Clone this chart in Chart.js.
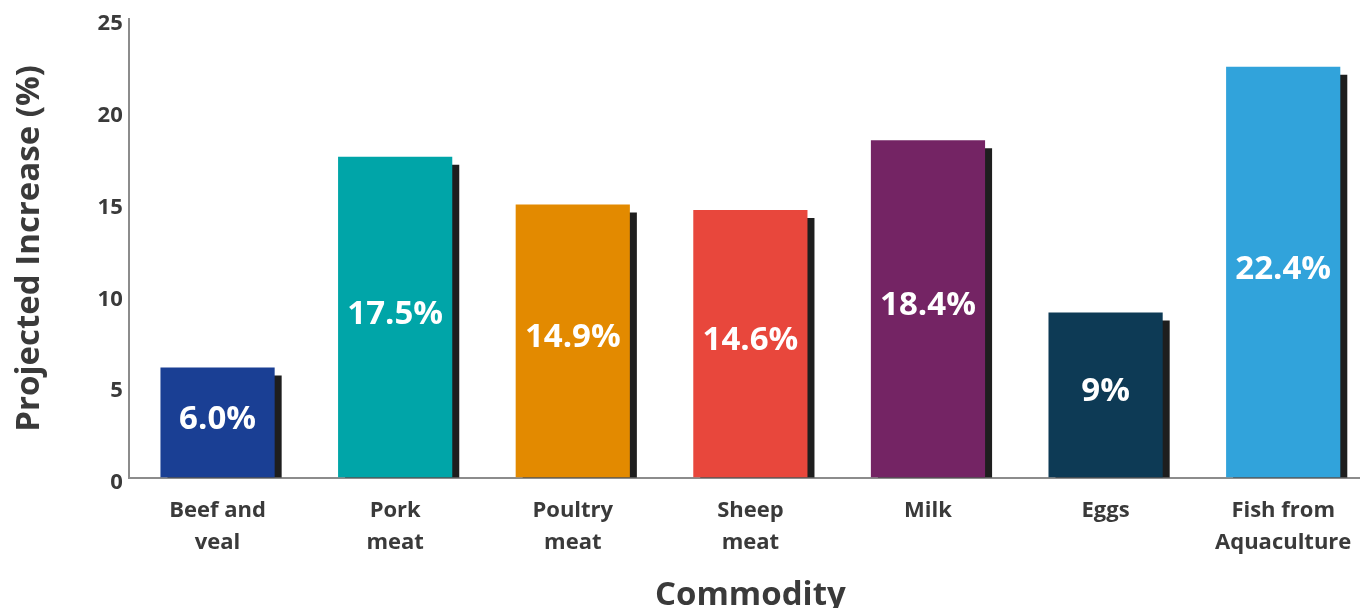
<!DOCTYPE html>
<html>
<head>
<meta charset="utf-8">
<script src="https://cdn.jsdelivr.net/npm/chart.js@4/dist/chart.umd.min.js"></script>
<style>
  html, body { margin: 0; padding: 0; background: #ffffff; overflow: hidden; }
  #wrap { position: relative; width: 1372px; height: 608px; }
</style>
</head>
<body>
<div id="wrap"><canvas id="c"></canvas></div>
<script>
const categories = [
  ["Beef and", "veal"],
  ["Pork", "meat"],
  ["Poultry", "meat"],
  ["Sheep", "meat"],
  ["Milk"],
  ["Eggs"],
  ["Fish from", "Aquaculture"]
];
const increases = [6.0, 17.5, 14.9, 14.6, 18.4, 9.0, 22.4];
const valueLabels = ["6.0%", "17.5%", "14.9%", "14.6%", "18.4%", "9%", "22.4%"];
const barColors = ["#1a3f94", "#00a5a8", "#e38a00", "#e8473c", "#742464", "#0d3a55", "#31a3db"];
const yTicks = [0, 5, 10, 15, 20, 25];

const FONT = "'Open Sans', 'DejaVu Sans', sans-serif";
const TEXT = "#3a3a3a";

const shadowAndLabels = {
  id: 'shadowAndLabels',
  beforeDatasetsDraw(chart) {
    const ctx = chart.ctx;
    const dpr = chart.currentDevicePixelRatio || 1;
    ctx.save();
    ctx.shadowColor = '#1e1e1e';
    ctx.shadowBlur = 0;
    ctx.shadowOffsetX = 7 * dpr;
    ctx.shadowOffsetY = 8 * dpr;
  },
  afterDatasetsDraw(chart) {
    const ctx = chart.ctx;
    ctx.restore();
    const meta = chart.getDatasetMeta(0);
    ctx.save();
    ctx.fillStyle = '#ffffff';
    ctx.font = "bold 33px " + FONT;
    ctx.textAlign = 'center';
    ctx.textBaseline = 'middle';
    meta.data.forEach((bar, i) => {
      const cy = (bar.y + bar.base) / 2 - 3;
      ctx.fillText(valueLabels[i], bar.x, cy);
    });
    ctx.restore();
  }
};

new Chart(document.getElementById('c'), {
  type: 'bar',
  data: {
    labels: categories,
    datasets: [{
      data: increases,
      backgroundColor: barColors,
      borderWidth: 0,
      categoryPercentage: 1.0,
      barPercentage: 0.643,
      clip: { left: false, top: false, right: false, bottom: 0 }
    }]
  },
  options: {
    responsive: true,
    maintainAspectRatio: false,
    animation: false,
    devicePixelRatio: 1,
    layout: { padding: { top: 8, right: 0, left: 10, bottom: 0 } },
    plugins: {
      legend: { display: false },
      tooltip: { enabled: false }
    },
    scales: {
      x: {
        grid: { display: false, drawTicks: false },
        border: { display: true, color: '#8c8c8c', width: 2 },
        ticks: {
          color: TEXT,
          font: { family: FONT, size: 22, weight: 'bold', lineHeight: 1.45 },
          padding: 17,
          maxRotation: 0,
          autoSkip: false
        },
        title: {
          display: true,
          text: 'Commodity',
          color: TEXT,
          font: { family: FONT, size: 33, weight: 'bold' },
          padding: { top: 0, bottom: -7 }
        }
      },
      y: {
        min: 0,
        max: 25,
        grid: { display: false, drawTicks: false },
        border: { display: true, color: '#8c8c8c', width: 2 },
        afterBuildTicks(scale) { scale.ticks = yTicks.map(v => ({ value: v })); },
        ticks: {
          color: TEXT,
          font: { family: FONT, size: 22, weight: 'bold' },
          padding: 6,
          labelOffset: 5
        },
        title: {
          display: true,
          text: 'Projected Increase (%)',
          color: TEXT,
          font: { family: FONT, size: 33, weight: 'bold' },
          padding: { top: 0, bottom: 42 }
        }
      }
    }
  },
  plugins: [shadowAndLabels]
});
</script>
</body>
</html>
